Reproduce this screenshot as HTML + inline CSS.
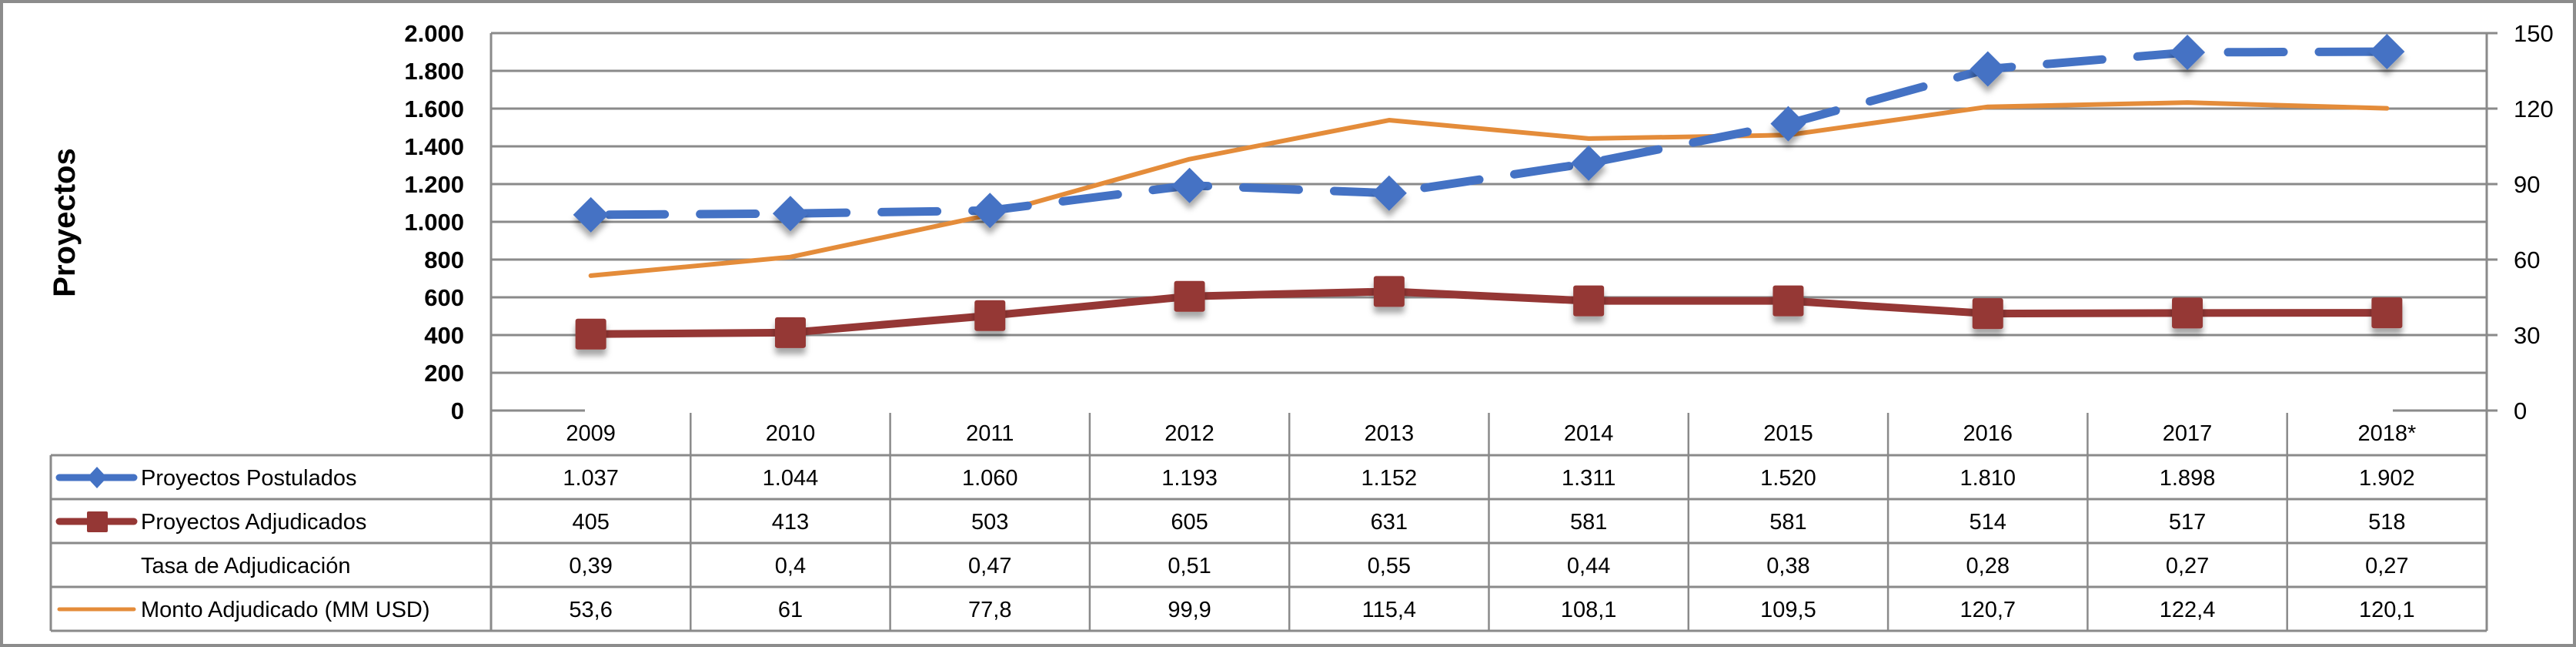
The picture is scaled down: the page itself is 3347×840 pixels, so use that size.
<!DOCTYPE html>
<html><head><meta charset="utf-8">
<style>
html,body{margin:0;padding:0;background:#fff;}
svg{display:block;font-family:"Liberation Sans",sans-serif;}
</style></head>
<body>
<svg id="chart" width="3347" height="840" viewBox="0 0 3347 840" xmlns="http://www.w3.org/2000/svg">
<defs>
<filter id="sh" x="-50%" y="-50%" width="200%" height="200%"><feDropShadow dx="0" dy="8" stdDeviation="4" flood-color="#000" flood-opacity="0.35"/></filter>
</defs>
<rect x="2" y="2" width="3343" height="836" fill="#fff" stroke="#8c8c8c" stroke-width="4"/>
<g id="grid"></g>
<g id="table"></g>
<g id="series"></g>
<text transform="translate(97,289) rotate(-90)" text-anchor="middle" font-size="40" font-weight="bold" fill="#000">Proyectos</text>
</svg>
<script>
const categories=["2009","2010","2011","2012","2013","2014","2015","2016","2017","2018*"];
const postulados=[1037,1044,1060,1193,1152,1311,1520,1810,1898,1902];
const adjudicados=[405,413,503,605,631,581,581,514,517,518];
const tasa=["0,39","0,4","0,47","0,51","0,55","0,44","0,38","0,28","0,27","0,27"];
const monto=[53.6,61,77.8,99.9,115.4,108.1,109.5,120.7,122.4,120.1];
const postLabels=["1.037","1.044","1.060","1.193","1.152","1.311","1.520","1.810","1.898","1.902"];
const leftTicks=[0,200,400,600,800,1000,1200,1400,1600,1800,2000];
const leftTickLabels=["0","200","400","600","800","1.000","1.200","1.400","1.600","1.800","2.000"];
const rightTicks=[0,30,60,90,120,150];

const NS="http://www.w3.org/2000/svg";
const L=638,R=3231,T=43,B=533;
const cw=(R-L)/categories.length;
const xc=i=>L+cw*(i+0.5);
const yL=v=>B-(v/2000)*(B-T);
const yR=v=>B-(v/150)*(B-T);
function mk(tag,attrs,parent,text){const e=document.createElementNS(NS,tag);for(const k in attrs)e.setAttribute(k,attrs[k]);if(text!==undefined)e.textContent=text;parent.appendChild(e);return e;}
const grid=document.getElementById('grid'),table=document.getElementById('table'),ser=document.getElementById('series');
const gc="#8a8a8a";
leftTicks.forEach((v,i)=>{
  const y=yL(v);
  if(v===0){
    const a=mk('line',{x1:L,x2:L+122,y1:y,y2:y,stroke:gc,'stroke-width':3},grid);
    
    
    const b=mk('line',{x1:R-122,x2:R+14,y1:y,y2:y,stroke:gc,'stroke-width':3},grid);
    
    
  } else {
    const g=mk('line',{x1:L,x2:R+(i%2===0?14:0),y1:y,y2:y,stroke:gc,'stroke-width':3},grid);
    
    
  }
  const t=mk('text',{x:603,y:y+11,'text-anchor':'end','font-size':31,'font-weight':'bold',fill:'#000'},grid,leftTickLabels[i]);
  
  
});
rightTicks.forEach(v=>{
  const t=mk('text',{x:3266,y:yR(v)+11,'font-size':31,fill:'#000'},grid,String(v));
  
  
});
// axes
const al=mk('line',{x1:L,x2:L,y1:T,y2:819,stroke:gc,'stroke-width':3},grid);


const ar=mk('line',{x1:R,x2:R,y1:T,y2:819,stroke:gc,'stroke-width':3},grid);


// table
const rowsY=[591,648,705,762,819];
rowsY.forEach(y=>{
  const l=mk('line',{x1:66,x2:R,y1:y,y2:y,stroke:gc,'stroke-width':3},table);
  
  
});
const lb=mk('line',{x1:66,x2:66,y1:591,y2:819,stroke:gc,'stroke-width':3},table);


for(let i=1;i<categories.length;i++){
  const x=L+cw*i;
  const l=mk('line',{x1:x,x2:x,y1:536,y2:819,stroke:gc,'stroke-width':2.5},table);
  
  
}
const rowVals=[categories,postLabels,adjudicados.map(String),tasa,monto.map(v=>String(v).replace('.',','))];
const rowNames=['year-label','postulados-value','adjudicados-value','tasa-value','monto-value'];
const rowMid=[562,620,677,734,791];
rowVals.forEach((arr,r)=>{
  arr.forEach((s,i)=>{
    const t=mk('text',{x:xc(i),y:rowMid[r]+10,'text-anchor':'middle','font-size':29,fill:'#000'},table,s);
    
    
  });
});
// legend keys
const legendText=["Proyectos Postulados","Proyectos Adjudicados","Tasa de Adjudicación","Monto Adjudicado (MM USD)"];
legendText.forEach((s,r)=>{
  const t=mk('text',{x:183,y:rowMid[r+1]+10,'font-size':29,fill:'#000'},table,s);
  
  
});
let k=mk('line',{x1:77,x2:174,y1:620,y2:620,stroke:'#4472C4','stroke-width':9,'stroke-linecap':'round'},table);


k=mk('path',{d:'M126 606 L139 620 L126 634 L113 620 Z',fill:'#4472C4'},table);


k=mk('line',{x1:77,x2:174,y1:677,y2:677,stroke:'#953735','stroke-width':9,'stroke-linecap':'round'},table);


k=mk('rect',{x:113,y:664,width:27,height:27,rx:2,fill:'#953735'},table);


k=mk('line',{x1:77,x2:174,y1:791,y2:791,stroke:'#E48C3A','stroke-width':5,'stroke-linecap':'round'},table);


// series
let p=mk('polyline',{points:monto.map((v,i)=>xc(i)+','+yR(v)).join(' '),fill:'none',stroke:'#E48C3A','stroke-width':6,'stroke-linejoin':'round','stroke-linecap':'round'},ser);


p=mk('polyline',{points:adjudicados.map((v,i)=>xc(i)+','+yL(v)).join(' '),fill:'none',stroke:'#953735','stroke-width':10,'stroke-linejoin':'round'},ser);


adjudicados.forEach((v,i)=>{
  const m=mk('rect',{x:xc(i)-20,y:yL(v)-20,width:40,height:40,rx:3,fill:'#953735',filter:'url(#sh)'},ser);
  
  
});
p=mk('polyline',{points:postulados.map((v,i)=>xc(i)+','+yL(v)).join(' '),fill:'none',stroke:'#4472C4','stroke-width':11,'stroke-dasharray':'72 46','stroke-dashoffset':'-24','stroke-linecap':'round','stroke-linejoin':'round'},ser);


postulados.forEach((v,i)=>{
  const x=xc(i),y=yL(v);
  const m=mk('path',{d:`M${x} ${y-23} L${x+23} ${y} L${x} ${y+23} L${x-23} ${y} Z`,fill:'#4472C4',filter:'url(#sh)'},ser);
  
  
});
</script>
</body></html>
